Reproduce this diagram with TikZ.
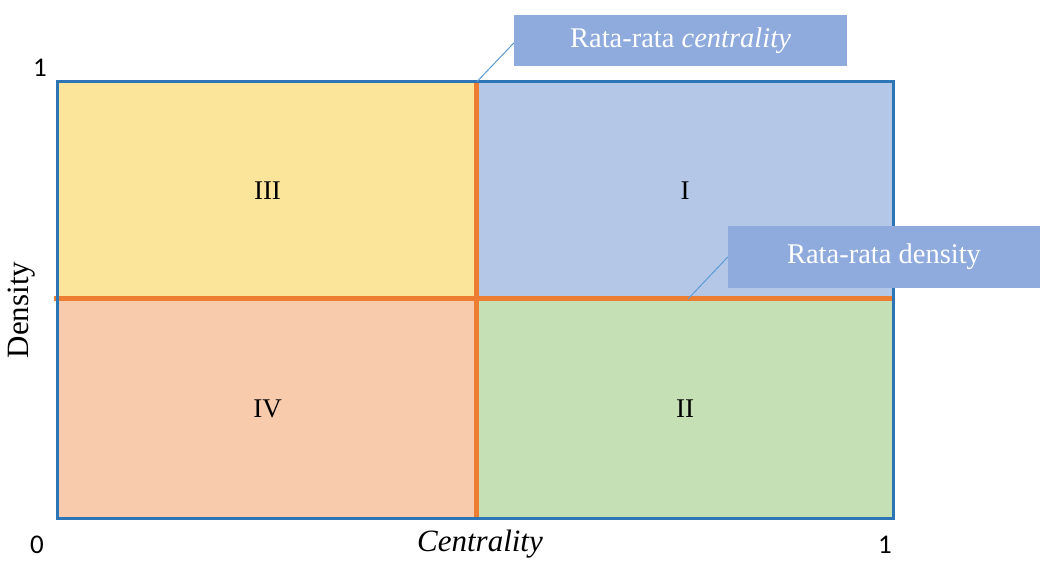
\documentclass[tikz,border=0pt]{standalone}
\usepackage{fontspec}
\setmainfont{Liberation Serif}
\newfontfamily\numfont{Carlito}
\usepackage{tikz}
\usetikzlibrary{positioning, calc}
\definecolor{quadI}{HTML}{B4C7E7}
\definecolor{quadII}{HTML}{C5E0B4}
\definecolor{quadIII}{HTML}{FBE59B}
\definecolor{quadIV}{HTML}{F8CBAD}
\definecolor{frameblue}{HTML}{2E75B6}
\definecolor{divorange}{HTML}{ED7D31}
\definecolor{calloutfill}{HTML}{8FAADC}
\definecolor{pointerblue}{HTML}{5B9BD5}

\begin{document}
\begin{tikzpicture}[
  x=1pt, y=-1pt,
  every node/.style={font=\fontsize{27}{31}\selectfont},
  quad/.style={rectangle, inner sep=0pt, draw=none},
  callout/.style={rectangle, fill=calloutfill, text=white, inner sep=0pt,
                  font=\fontsize{28.5}{32}\selectfont},
  axislabel/.style={font=\fontsize{31}{35}\selectfont, inner sep=1pt},
  ticklabel/.style={font=\numfont\fontsize{27}{31}\selectfont, inner sep=0pt},
  frame/.style={draw=frameblue, line width=2.8pt},
  divider/.style={draw=divorange, line width=5pt},
  pointer/.style={draw=pointerblue, line width=1pt}
]
\useasboundingbox (0,0) rectangle (1048,560);

% quadrants
\node[quad, fill=quadIII, minimum width=419pt, minimum height=217pt] (q3) at (267.5,190.5) {III};
\node[quad, fill=quadI,   minimum width=416pt, minimum height=217pt] (q1) at (685,190.5) {I};
\node[quad, fill=quadIV,  minimum width=419pt, minimum height=219pt] (q4) at (267.5,408.5) {IV};
\node[quad, fill=quadII,  minimum width=416pt, minimum height=219pt] (q2) at (685,408.5) {II};

% dividers (average lines)
\draw[divider] (q1.north west) -- (q2.south west);
\draw[divider] ($(q4.north west)+(-4,0)$) -- (q2.north east);

% frame
\draw[frame] (q3.north west) rectangle (q2.south east);

% callouts
\node[callout, minimum width=333pt, minimum height=51pt] (cb1) at (680.5,40.5) {Rata-rata \textit{centrality}};
\node[callout, minimum width=312pt, minimum height=62pt] (cb2) at (884,257) {Rata-rata density};
\coordinate (p2) at (688,299);
\draw[pointer] (q1.north west) -- ($(cb1.west)+(0,2.5)$);
\draw[pointer] (p2) -- (cb2.west);

% axes
\node[ticklabel] (top1) at (40,68) {1};
\node[ticklabel] (zero) at (37,545) {0};
\node[ticklabel] (right1) at (885,545) {1};
\node[axislabel] (xlab) at (480,544) {\textit{Centrality}};
\node[axislabel, rotate=90] (ylab) at (22,310) {Density};
\end{tikzpicture}
\end{document}
